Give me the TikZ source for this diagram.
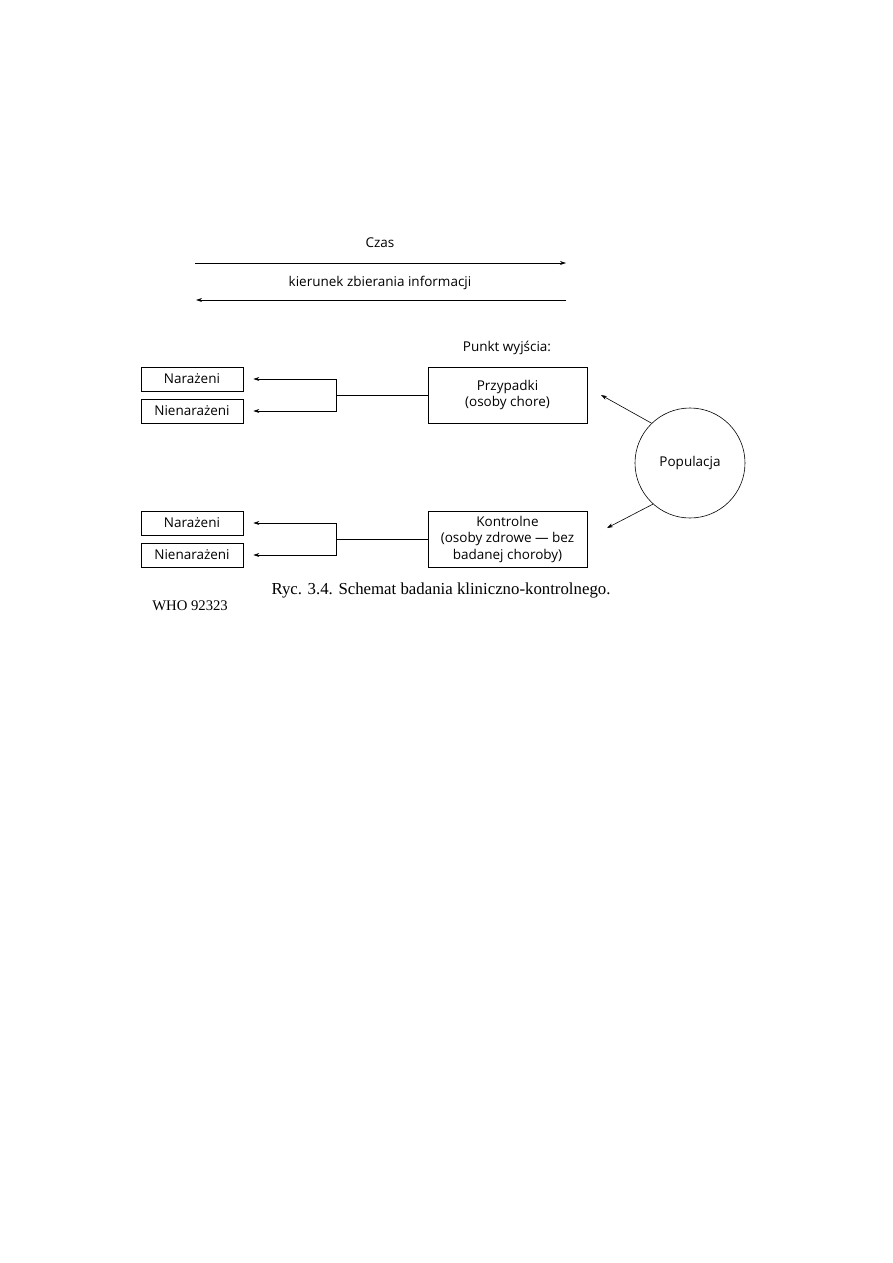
\documentclass[tikz,border=0pt]{standalone}
\usepackage{fontspec}
\setmainfont{Liberation Serif}
\newfontfamily\labelfont{Open Sans}
\usetikzlibrary{arrows.meta}

\tikzset{
    box/.style={draw, thin, font=\labelfont\small, align=center, inner sep=0pt},
    smallbox/.style={box, minimum width=102*0.6667pt, minimum height=24*0.6667pt},
    bigbox/.style={box, minimum width=159*0.6667pt, minimum height=56*0.6667pt},
    lbl/.style={font=\labelfont\small, inner sep=0pt},
    link/.style={thin, -{Stealth[length=4pt, width=2.6pt]}}
}

\begin{document}
\begin{tikzpicture}[x=0.6667pt, y=-0.6667pt]
    \useasboundingbox (0,0) rectangle (893,1263);

    % time axis
    \node[lbl] (czas) at (380,243) {Czas};
    \coordinate (t1) at (195,263);
    \coordinate (t2) at (566,263);
    \draw[link] (t1) -- (t2);
    \node[lbl] (kier) at (380,283) {kierunek zbierania informacji};
    \coordinate (k1) at (566,300);
    \coordinate (k2) at (196,300);
    \draw[link] (k1) -- (k2);

    % cases
    \node[lbl] (start) at (507,348) {Punkt wyjścia:};
    \node[bigbox] (cases) at (507.5,395) {Przypadki\\(osoby chore)};
    \node[smallbox] (exp1) at (192,379) {Narażeni};
    \node[smallbox] (nexp1) at (192,411) {Nienarażeni};
    \coordinate (j1) at (336,395);
    \draw[thin] (cases.west) -- (j1);
    \draw[link] (j1) |- ([xshift=10*0.6667pt]exp1.east);
    \draw[link] (j1) |- ([xshift=10*0.6667pt]nexp1.east);

    % controls
    \node[bigbox] (ctrl) at (507.5,539) {Kontrolne\\(osoby zdrowe — bez\\badanej choroby)};
    \node[smallbox] (exp2) at (192,523) {Narażeni};
    \node[smallbox] (nexp2) at (192,555) {Nienarażeni};
    \coordinate (j2) at (336,539);
    \draw[thin] (ctrl.west) -- (j2);
    \draw[link] (j2) |- ([xshift=10*0.6667pt]exp2.east);
    \draw[link] (j2) |- ([xshift=10*0.6667pt]nexp2.east);

    % population
    \node[draw, thin, circle, minimum size=110*0.6667pt, font=\labelfont\small] (pop) at (690,463) {Populacja};
    \coordinate (p1) at (601,395);
    \coordinate (p2) at (607,528);
    \draw[link] (pop.134) -- (p1);
    \draw[link] (pop.228) -- (p2);

    % caption
    \node[font=\fontsize{11.2}{13}\selectfont, inner sep=0pt] (cap) at (441,590) {Ryc. 3.4. Schemat badania kliniczno-kontrolnego.};
    \node[font=\fontsize{9.8}{12}\selectfont, inner sep=0pt, anchor=west] (who) at (152,606) {WHO 92323};
\end{tikzpicture}
\end{document}
